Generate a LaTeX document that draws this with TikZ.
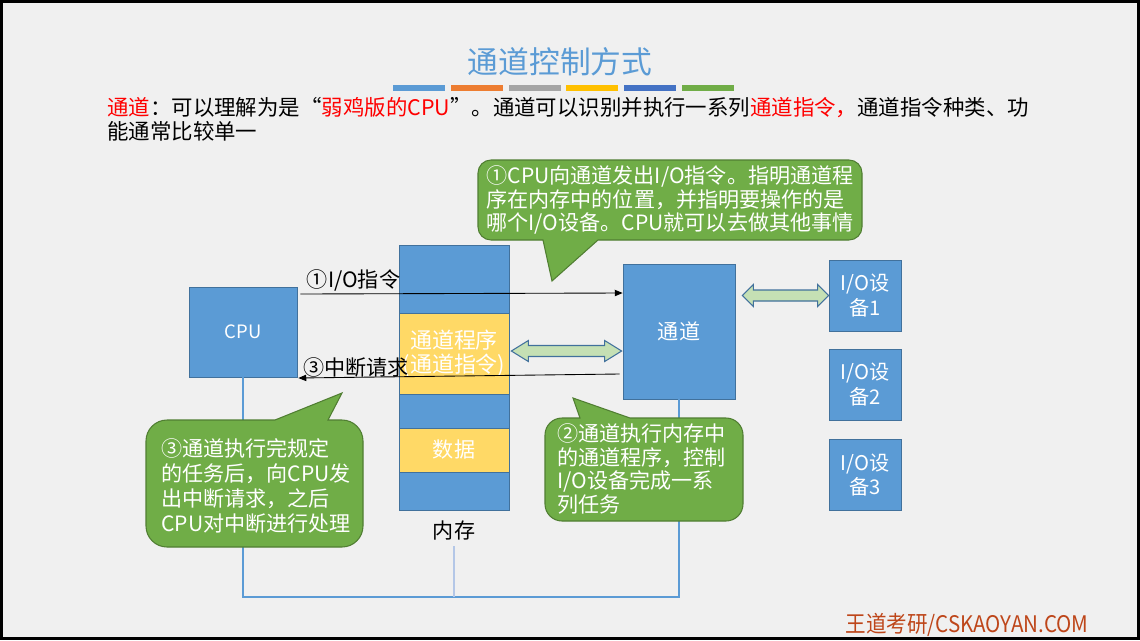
\documentclass[tikz,border=0pt]{standalone}
\usepackage{fontspec}
\setmainfont{Noto Sans CJK SC}
\usepackage{xcolor}
\usepackage{tikz}
\usetikzlibrary{arrows.meta, positioning, calc}

\definecolor{boxblue}{HTML}{5B9BD5}
\definecolor{boxedge}{HTML}{41719C}
\definecolor{progyel}{HTML}{FFD966}
\definecolor{notegreen}{HTML}{70AD47}
\definecolor{noteedge}{HTML}{507E32}
\definecolor{busgreen}{HTML}{C5E0B4}
\definecolor{slidebg}{HTML}{F0F0F0}
\definecolor{brandred}{HTML}{BE461A}
\definecolor{linkpale}{HTML}{B4C7E7}

% block arrow with two heads: left tip, right tip, head length, head half-width
\newcommand{\busarrow}[4]{%
  \draw[bus] (#1) -- ++(#3,-#4) -- ++(0,#4-5.5) -- ($(#2)+(-#3,-5.5)$) -- ++(0,5.5-#4)
    -- (#2) -- ++(-#3,#4) -- ++(0,5.5-#4) -- ($(#1)+(#3,5.5)$) -- ++(0,#4-5.5) -- cycle;}

\begin{document}
\begin{tikzpicture}[
    x=0.02cm, y=-0.02cm,
    box/.style={draw=boxedge, fill=boxblue, text=white, align=center, inner sep=0pt, font=\fontsize{12}{14}\selectfont},
    iobox/.style={box, minimum width=1.44cm, minimum height=1.42cm, font=\fontsize{11.5}{14}\selectfont},
    memblk/.style={draw=boxedge, fill=progyel, text=white, minimum width=2.2cm, align=center, inner sep=0pt},
    note/.style={draw=noteedge, fill=notegreen, line width=0.6pt},
    notetext/.style={text=white, align=left, inner sep=0pt, font=\fontsize{12}{13.6}\selectfont},
    sig/.style={draw=black, line width=0.5pt, -{Triangle[length=4.5pt, width=3.6pt]}},
    siglabel/.style={font=\fontsize{12}{14}\selectfont, inner sep=1pt},
    bus/.style={draw=boxedge, fill=busgreen, line width=0.6pt},
    link/.style={draw=boxblue, line width=0.6pt},
]

% Slide
\useasboundingbox (0,0) rectangle (1140,640);
\fill[slidebg] (0,0) rectangle (1140,640);
\draw[line width=1.7pt] (1.5,1.5) rectangle (1138.5,638.5);

% Title
\node[font=\fontsize{17.5}{20}\selectfont, text=boxblue] (title) at (560,62) {通道控制方式};
\foreach \hex [count=\i from 0] in {5B9BD5,ED7D31,A5A5A5,FFC000,4472C4,70AD47}{
  \definecolor{barcol}{HTML}{\hex}
  \fill[barcol] (393+57.8*\i,85) rectangle ++(52,6);
}

% Intro
\node[anchor=west, inner sep=0pt, font=\fontsize{12.2}{14}\selectfont] (intro1) at (107,108)
  {\textcolor{red}{通道}：可以理解为是“\textcolor{red}{弱鸡版的CPU}”。通道可以识别并执行一系列\textcolor{red}{通道指令，}通道指令种类、功};
\node[anchor=west, inner sep=0pt, font=\fontsize{12.2}{14}\selectfont] (intro2) at (107,131) {能通常比较单一};

% Memory
\node[box, minimum width=2.2cm, minimum height=5.3cm] (mem) at (454,377.5) {};
\node[memblk, minimum height=1.62cm, font=\fontsize{12.5}{14}\selectfont] (prog) at (454,353.5) {通道程序\\(通道指令)};
\node[memblk, minimum height=0.88cm, font=\fontsize{12}{14}\selectfont] (data) at (454,450) {数据};
\node[below=0.2cm of mem, inner sep=0pt, font=\fontsize{12}{14}\selectfont] (memlbl) {内存};

% CPU and channel
\node[box, minimum width=2.16cm, minimum height=1.8cm, font=\fontsize{10.5}{12}\selectfont] (cpu) at (243,332) {CPU};
\node[box, minimum width=2.24cm, minimum height=2.7cm] (chan) at (679,331.5) {通道};

% I/O devices
\node[iobox] (io1) at (865,295.5) {I/O设\\备1};
\node[iobox, below=0.35cm of io1] (io2) {I/O设\\备2};
\node[iobox, below=0.37cm of io2] (io3) {I/O设\\备3};

% Wiring at the bottom
\coordinate (floor) at (455,597);
\draw[link] (cpu.south) -- (cpu.south |- floor) -| (chan.south);
\draw[link, draw=linkpale] ($(memlbl.south)+(0,6)$) -- (memlbl.south |- floor);

% Buses
\coordinate (ma) at ($(prog.east)+(2,-2.5)$);
\coordinate (mb) at ($(chan.west)+(-1,19.5)$);
\busarrow{ma}{mb}{17}{10.5}
\coordinate (ca) at ($(chan.east)+(7,-36)$);
\coordinate (cb) at (io1.west);
\busarrow{ca}{cb}{11}{11}

% Signals
\draw[sig] ($(cpu.east)+(3,-38)$) -- node[siglabel, above, pos=0.165] (lbl1) {①I/O指令} ($(chan.west)+(0,-38.5)$);
\draw[sig] ($(chan.west)+(-3,42.5)$) -- node[siglabel, above, pos=0.82, inner sep=0pt] (lbl3) {③中断请求} ($(cpu.east)+(1,46)$);

% Callouts
\draw[note] (491,160) -- (849,160) arc[start angle=-90, end angle=0, radius=13]
  -- (862,227) arc[start angle=0, end angle=90, radius=13]
  -- (598,240) -- (552,281) -- (543,240)
  -- (491,240) arc[start angle=90, end angle=180, radius=13]
  -- (478,173) arc[start angle=180, end angle=270, radius=13] -- cycle;
\node[notetext] (note1) at (670,200) {①CPU向通道发出I/O指令。指明通道程\\序在内存中的位置，并指明要操作的是\\哪个I/O设备。CPU就可以去做其他事情};

\draw[note] (562,418) -- (580,418) -- (573,398) -- (630,418)
  -- (726,418) arc[start angle=-90, end angle=0, radius=17]
  -- (743,504) arc[start angle=0, end angle=90, radius=17]
  -- (562,521) arc[start angle=90, end angle=180, radius=17]
  -- (545,435) arc[start angle=180, end angle=270, radius=17] -- cycle;
\node[notetext, anchor=west] (note2) at (557,469) {②通道执行内存中\\的通道程序，控制\\I/O设备完成一系\\列任务};

\draw[note] (167,420) -- (275,420) -- (342,393) -- (328,420)
  -- (342,420) arc[start angle=-90, end angle=0, radius=21]
  -- (363,526) arc[start angle=0, end angle=90, radius=21]
  -- (167,547) arc[start angle=90, end angle=180, radius=21]
  -- (146,441) arc[start angle=180, end angle=270, radius=21] -- cycle;
\node[notetext, anchor=west, font=\fontsize{12}{14.2}\selectfont] (note3) at (161,486) {③通道执行完规定\\的任务后，向CPU发\\出中断请求，之后\\CPU对中断进行处理};

% Brand
\node[text=brandred, font=\fontsize{13}{15}\selectfont, xscale=0.9] (brand) at (967,625) {王道考研/CSKAOYAN.COM};

\end{tikzpicture}
\end{document}
